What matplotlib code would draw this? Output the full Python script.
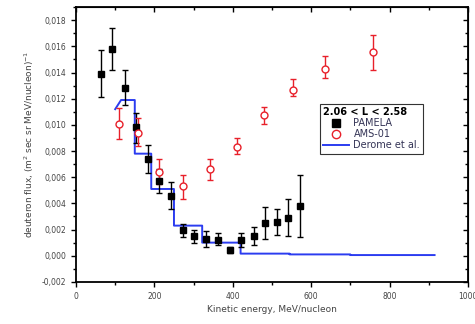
import matplotlib
matplotlib.use("Agg")
from matplotlib import pyplot as plt
from matplotlib.lines import Line2D
from matplotlib.ticker import MultipleLocator, FuncFormatter

# PAMELA deuteron flux (black squares)
PAMELA_E = [63, 93, 124, 154, 183, 213, 242, 273, 301, 331, 363, 392, 422, 453, 483, 512, 540, 571]
PAMELA_FLUX = [0.0139, 0.0158, 0.0128, 0.0098, 0.0074, 0.0057, 0.0046, 0.0020, 0.0015, 0.0013,
               0.0012, 0.00045, 0.0012, 0.0015, 0.0025, 0.0026, 0.0029, 0.0038]
PAMELA_LO = [0.0121, 0.0142, 0.0115, 0.0086, 0.0063, 0.0048, 0.0036, 0.0014, 0.0010, 0.0007,
             0.0008, 0.0002, 0.0007, 0.0008, 0.0013, 0.0016, 0.0015, 0.0014]
PAMELA_HI = [0.0157, 0.0174, 0.0142, 0.0109, 0.0085, 0.0066, 0.0056, 0.0024, 0.0020, 0.0019,
             0.0017, 0.0007, 0.0017, 0.0022, 0.0037, 0.0036, 0.0043, 0.0062]

# AMS-01 (red open circles)
AMS_E = [110, 158, 211, 273, 342, 411, 481, 554, 635, 757]
AMS_FLUX = [0.0101, 0.0094, 0.0064, 0.0053, 0.0066, 0.0083, 0.01075, 0.0127, 0.0143, 0.0156]
AMS_LO = [0.0089, 0.0084, 0.0055, 0.0043, 0.0058, 0.0078, 0.0101, 0.0122, 0.0136, 0.0142]
AMS_HI = [0.0113, 0.0105, 0.0074, 0.0062, 0.0074, 0.0090, 0.0114, 0.0135, 0.0153, 0.0169]

# Derome et al. calculation (blue line)
DEROME_E = [100, 115, 150, 150, 192, 192, 250, 250, 322, 322, 420, 420, 545, 545, 700, 700, 915]
DEROME_FLUX = [0.0112, 0.0119, 0.0119, 0.0078, 0.0078, 0.0051, 0.0051, 0.0023, 0.0023, 0.0010,
               0.0010, 0.00016, 0.00016, 0.00010, 0.00010, 0.00005, 0.00005]

TEXT_COLOR = "#444444"
RED = "#e8202a"
BLUE = "#2b3cf0"


def comma_fmt(v, pos):
    return "{:.3f}".format(v).replace(".", ",")


fig = plt.figure(figsize=(4.75, 3.24), dpi=100)
ax = fig.add_axes([0.16, 0.13, 0.825, 0.848])

pam_err = [[f - lo for f, lo in zip(PAMELA_FLUX, PAMELA_LO)],
           [hi - f for f, hi in zip(PAMELA_FLUX, PAMELA_HI)]]
ams_err = [[f - lo for f, lo in zip(AMS_FLUX, AMS_LO)],
           [hi - f for f, hi in zip(AMS_FLUX, AMS_HI)]]

ax.plot(DEROME_E, DEROME_FLUX, color=BLUE, lw=1.4, zorder=2)
ax.errorbar(PAMELA_E, PAMELA_FLUX, yerr=pam_err, fmt="s", color="black", ms=5,
            ecolor="black", elinewidth=1, capsize=2.5, capthick=1, zorder=3)
ax.errorbar(AMS_E, AMS_FLUX, yerr=ams_err, fmt="o", mfc="white", mec=RED, ms=5,
            mew=1, ecolor=RED, elinewidth=1, capsize=2.5, capthick=1, zorder=3)

ax.set_xlim(0, 1000)
ax.set_ylim(-0.002, 0.019)
ax.xaxis.set_major_locator(MultipleLocator(200))
ax.xaxis.set_minor_locator(MultipleLocator(100))
ax.yaxis.set_major_locator(MultipleLocator(0.002))
ax.yaxis.set_minor_locator(MultipleLocator(0.001))
ax.yaxis.set_major_formatter(FuncFormatter(comma_fmt))
ax.tick_params(which="both", direction="out", labelsize=5.5, labelcolor=TEXT_COLOR, width=1)
ax.tick_params(which="major", length=3.5)
ax.tick_params(which="minor", length=2)
for s in ax.spines.values():
    s.set_linewidth(1.3)

# top and right ticks pointing inward, no labels
top = ax.secondary_xaxis("top")
top.xaxis.set_major_locator(MultipleLocator(200))
top.xaxis.set_minor_locator(MultipleLocator(100))
top.tick_params(which="both", direction="in", labeltop=False, width=1)
top.tick_params(which="minor", length=2)
right = ax.secondary_yaxis("right")
right.yaxis.set_major_locator(MultipleLocator(0.002))
right.yaxis.set_minor_locator(MultipleLocator(0.001))
right.tick_params(which="both", direction="in", labelright=False, width=1)
right.tick_params(which="minor", length=2)

ax.set_xlabel("Kinetic energy, MeV/nucleon", fontsize=6.5, color=TEXT_COLOR, labelpad=3)
ax.set_ylabel("deuteron flux, (m$^2$ sec sr MeV/nucleon)$^{-1}$", fontsize=6.5,
              color=TEXT_COLOR, labelpad=4)

handles = [
    Line2D([], [], marker="s", ls="none", color="black", ms=6),
    Line2D([], [], marker="o", ls="none", mfc="white", mec=RED, ms=6, mew=1),
    Line2D([], [], color=BLUE, lw=1.4),
]
labels = ["PAMELA", "AMS-01", "Derome et al."]
leg = ax.legend(handles, labels, title="2.06 < L < 2.58", loc="upper left",
                bbox_to_anchor=(0.61, 0.665), fontsize=7, title_fontsize=7,
                frameon=True, fancybox=False, edgecolor="#333333", framealpha=1,
                handlelength=2.6, handletextpad=0.5, borderpad=0.35,
                labelspacing=0.1, alignment="left")
leg.get_title().set_fontweight("bold")
leg.get_frame().set_linewidth(0.8)
for t in leg.get_texts():
    t.set_color("#333355")

fig.savefig("out.png", dpi=100)
